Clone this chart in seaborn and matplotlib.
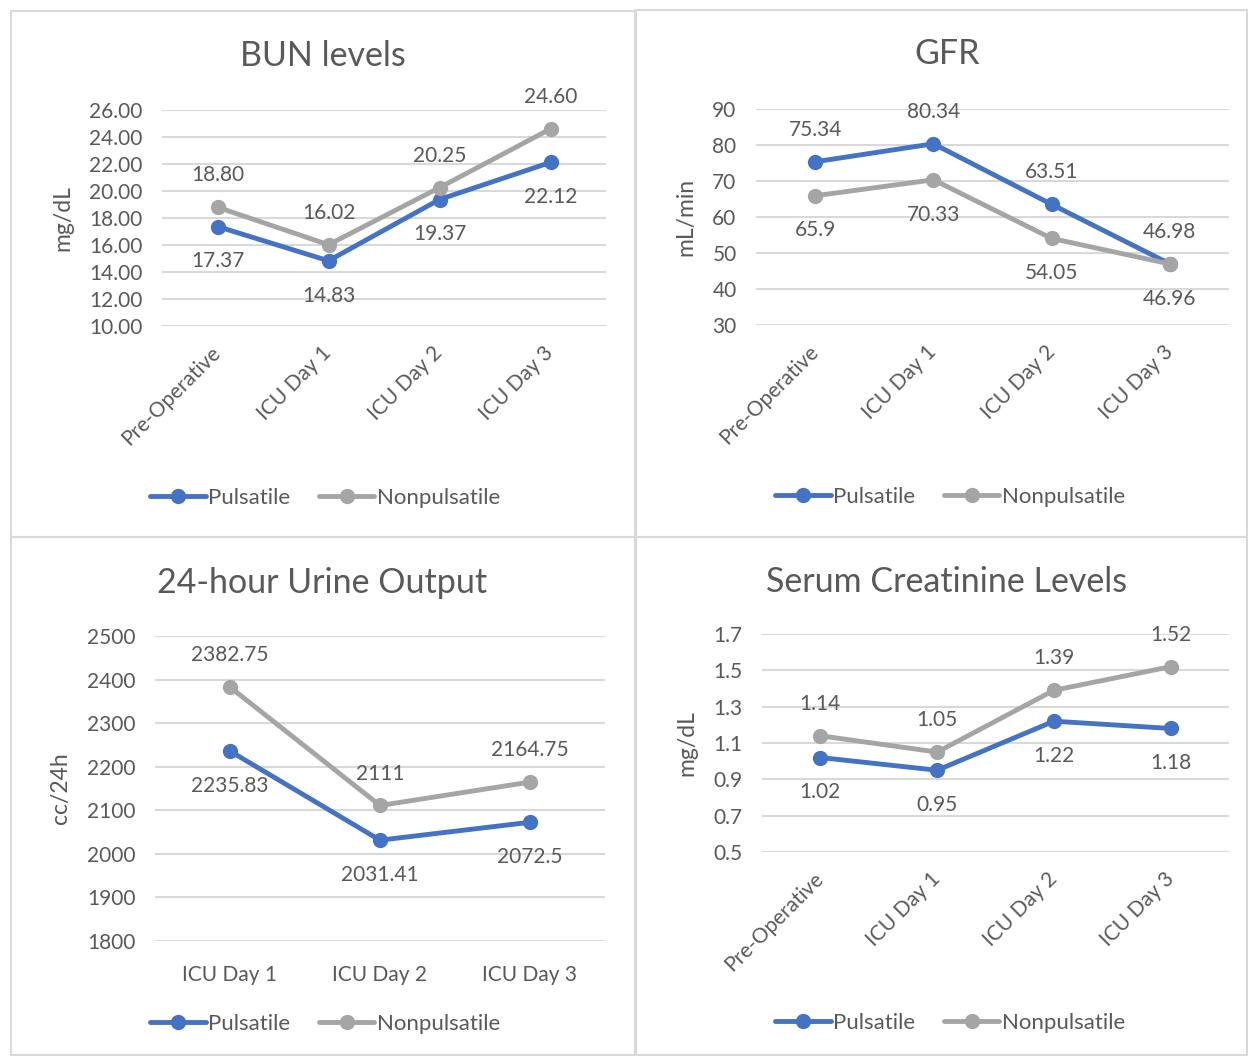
import numpy as np
import pandas as pd
import matplotlib
matplotlib.use("Agg")
import matplotlib.pyplot as plt
from matplotlib.patches import Rectangle
from matplotlib.lines import Line2D
from matplotlib.ticker import FormatStrFormatter
import seaborn as sns

# data
days4 = ["Pre-Operative", "ICU Day 1", "ICU Day 2", "ICU Day 3"]
days3 = ["ICU Day 1", "ICU Day 2", "ICU Day 3"]
groups = ["Pulsatile", "Nonpulsatile"]

bun_puls = [17.37, 14.83, 19.37, 22.12]
bun_nonp = [18.80, 16.02, 20.25, 24.60]
bun_labels_puls = ["17.37", "14.83", "19.37", "22.12"]
bun_labels_nonp = ["18.80", "16.02", "20.25", "24.60"]

gfr_puls = [75.34, 80.34, 63.51, 46.98]
gfr_nonp = [65.9, 70.33, 54.05, 46.96]
gfr_labels_puls = ["75.34", "80.34", "63.51", "46.98"]
gfr_labels_nonp = ["65.9", "70.33", "54.05", "46.96"]

urine_puls = [2235.83, 2031.41, 2072.5]
urine_nonp = [2382.75, 2111, 2164.75]
urine_labels_puls = ["2235.83", "2031.41", "2072.5"]
urine_labels_nonp = ["2382.75", "2111", "2164.75"]

creat_puls = [1.02, 0.95, 1.22, 1.18]
creat_nonp = [1.14, 1.05, 1.39, 1.52]
creat_labels_puls = ["1.02", "0.95", "1.22", "1.18"]
creat_labels_nonp = ["1.14", "1.05", "1.39", "1.52"]

BLUE = "#4472C4"
GRAY = "#A5A5A5"
TXT = "#595959"
GRID = "#D9D9D9"
FS = 15
LW = 3.5
MS = 11

sns.set_theme(style="white")
plt.rcParams["font.family"] = ["Lato", "DejaVu Sans"]
plt.rcParams["text.color"] = TXT

W, H = 1248, 1056
fig = plt.figure(figsize=(W / 100, H / 100), dpi=100)


def px_axes(x0, y0, x1, y1):
    return fig.add_axes([x0 / W, 1 - y1 / H, (x1 - x0) / W, (y1 - y0) / H])


def make_panel(ax, cats, puls, nonp, lab_p, lab_n, ylim, step, fmt, ylabel,
               puls_above, rotate, ylab_px):
    df = pd.DataFrame({
        "day": cats * 2,
        "value": list(puls) + list(nonp),
        "group": [groups[0]] * len(cats) + [groups[1]] * len(cats),
    })
    sns.lineplot(data=df, x="day", y="value", hue="group", palette=[BLUE, GRAY],
                 marker="o", markersize=MS, markeredgewidth=0, linewidth=LW,
                 ax=ax, sort=False, legend=False)
    n = len(cats)
    ax.set_xlim(-0.5, n - 0.5)
    ax.set_ylim(*ylim)
    ax.set_yticks(np.arange(ylim[0], ylim[1] + step / 2, step))
    ax.yaxis.set_major_formatter(FormatStrFormatter(fmt))
    ax.grid(axis="y", color=GRID, linewidth=1.5)
    ax.set_axisbelow(True)
    for s in ax.spines.values():
        s.set_visible(False)
    ax.tick_params(axis="y", length=0, pad=14, labelsize=FS, labelcolor=TXT)
    ax.tick_params(axis="x", length=0, labelsize=FS, labelcolor=TXT)
    ax.set_xlabel("")
    ax.set_ylabel(ylabel, fontsize=16.5, color=TXT)
    width_px = ax.get_position().width * W
    ax.yaxis.set_label_coords(-ylab_px / width_px, 0.5)
    if rotate:
        ax.tick_params(axis="x", pad=17)
        plt.setp(ax.get_xticklabels(), rotation=45, ha="right", va="center",
                 rotation_mode="anchor")
    else:
        ax.tick_params(axis="x", pad=17)
    up, down = 23, -25
    for i in range(n):
        ax.annotate(lab_p[i], (i, puls[i]), xytext=(0, up if puls_above else down),
                    textcoords="offset points", ha="center", va="center",
                    fontsize=FS, color=TXT)
        ax.annotate(lab_n[i], (i, nonp[i]), xytext=(0, down if puls_above else up),
                    textcoords="offset points", ha="center", va="center",
                    fontsize=FS, color=TXT)


ax1 = px_axes(162, 110, 606, 326)
make_panel(ax1, days4, bun_puls, bun_nonp, bun_labels_puls, bun_labels_nonp,
           (10, 26), 2, "%.2f", "mg/dL", False, True, 89)
ax2 = px_axes(756, 109, 1229, 325)
make_panel(ax2, days4, gfr_puls, gfr_nonp, gfr_labels_puls, gfr_labels_nonp,
           (30, 90), 10, "%d", "mL/min", True, True, 60)
ax3 = px_axes(155, 636, 605, 941)
make_panel(ax3, days3, urine_puls, urine_nonp, urine_labels_puls, urine_labels_nonp,
           (1800, 2500), 100, "%d", "cc/24h", False, False, 84)
ax4 = px_axes(762, 634, 1229, 852)
make_panel(ax4, days4, creat_puls, creat_nonp, creat_labels_puls, creat_labels_nonp,
           (0.5, 1.7), 0.2, "%.1f", "mg/dL", False, True, 65)

# titles
for (cx, cy, t) in [(323, 56, "BUN levels"), (947, 54, "GFR"),
                    (322, 583, "24-hour Urine Output"), (947, 582, "Serum Creatinine Levels")]:
    fig.text(cx / W, 1 - cy / H, t, ha="center", va="center", fontsize=24.5, color=TXT)

# legends
hl = [Line2D([], [], color=BLUE, lw=LW, marker="o", markersize=MS, markeredgewidth=0),
      Line2D([], [], color=GRAY, lw=LW, marker="o", markersize=MS, markeredgewidth=0)]
for (cx, cy) in [(325, 498), (950, 497), (325, 1024), (950, 1023)]:
    fig.legend(hl, groups, loc="center", bbox_to_anchor=(cx / W, 1 - cy / H),
               ncol=2, frameon=False, fontsize=16, handlelength=2.5,
               handletextpad=0.1, columnspacing=1.3, labelcolor=TXT)

# panel borders
for (x0, y0, x1, y1) in [(11, 11, 635, 537), (636, 10, 1247, 537),
                         (11, 537, 635, 1055), (636, 537, 1247, 1055)]:
    fig.add_artist(Rectangle((x0 / W, 1 - y1 / H), (x1 - x0) / W, (y1 - y0) / H,
                             transform=fig.transFigure, fill=False,
                             edgecolor=GRID, linewidth=1.5))

fig.savefig("out.png", dpi=100)
